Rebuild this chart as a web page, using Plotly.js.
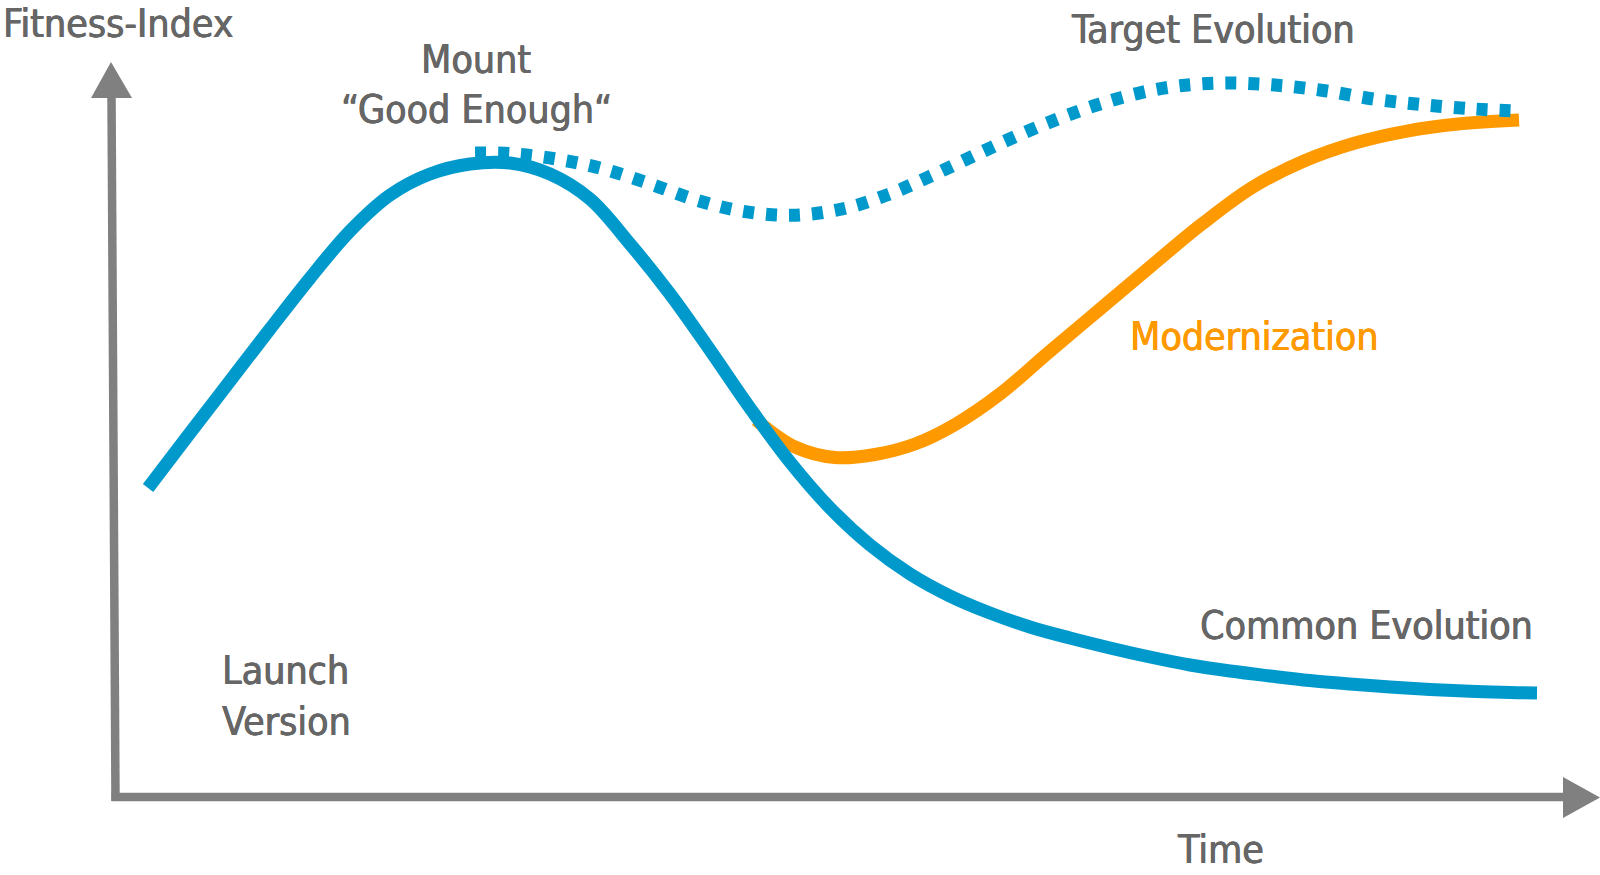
<!DOCTYPE html>
<html>
<head>
<meta charset="utf-8">
<script src="https://cdn.plot.ly/plotly-3.0.1.min.js"></script>
<style>
  html, body { margin: 0; padding: 0; background: #ffffff; }
  #chart { width: 1600px; height: 875px; }
</style>
</head>
<body>
<div id="chart"></div>
<script>
// ---- Data (time units 0..100, fitness units 0..100) ----
const commonTime = [2.28, 5.17, 7.93, 10.69, 13.45, 16.21, 18.97, 21.72, 24.48, 27.24, 30.0, 32.76, 35.52, 38.28, 41.03, 43.79, 46.55, 49.31, 52.07, 54.83, 57.59, 60.34, 63.10, 65.86, 68.62, 71.38, 74.14, 76.90, 79.66, 82.41, 85.17, 87.93, 90.69, 93.45, 96.21, 98.07];
const commonFitness = [44.14, 52.0, 59.43, 66.86, 74.14, 80.86, 86.0, 89.0, 90.43, 90.57, 89.0, 85.43, 79.0, 71.86, 63.86, 55.57, 47.86, 41.29, 36.0, 31.86, 28.71, 26.29, 24.29, 22.71, 21.29, 20.0, 18.86, 18.0, 17.29, 16.64, 16.14, 15.71, 15.36, 15.1, 14.93, 14.86];

const modernTime = [44.21, 46.90, 49.66, 52.41, 55.17, 57.93, 61.03, 64.34, 67.86, 71.38, 74.97, 78.48, 82.0, 85.52, 89.10, 92.62, 96.83];
const modernFitness = [53.86, 50.0, 48.5, 48.93, 50.43, 53.21, 57.57, 63.43, 69.57, 75.71, 81.86, 87.14, 90.86, 93.43, 95.14, 96.14, 96.71];

const targetTime = [24.83, 27.38, 30.55, 33.72, 36.90, 40.07, 43.24, 46.69, 50.14, 53.24, 56.14, 59.31, 62.48, 65.31, 67.93, 70.69, 73.45, 76.62, 80.0, 83.45, 86.83, 90.21, 93.66, 96.55];
const targetFitness = [92.0, 91.9, 91.1, 89.7, 87.6, 85.3, 83.7, 83.1, 84.0, 86.0, 88.6, 91.7, 94.7, 97.1, 99.0, 100.6, 101.6, 102.0, 101.7, 100.9, 99.7, 98.9, 98.3, 98.0];

const labelTexts = {
  yTitle: 'Fitness-Index',
  xTitle: 'Time',
  mount1: 'Mount',
  mount2: '\u201CGood Enough\u201C',
  target: 'Target Evolution',
  modern: 'Modernization',
  common: 'Common Evolution',
  launch1: 'Launch',
  launch2: 'Version'
};

// ---- Styling / layout helpers ----
const BLUE = '#0099CC';
const ORANGE = '#FF9900';
const TEXT = '#666666';
const AXIS = '#808080';
const FONT = '"DejaVu Sans Condensed", "Liberation Sans Narrow", "Arial Narrow", sans-serif';
const FS = 39;

// pixel -> data mapping used for decorations (axes, labels)
const X = px => (px - 115) / 14.5;
const Y = py => (797 - py) / 7;

function label(text, px, baselinePy, anchor, color) {
  const c = color || TEXT;
  return {
    text: text, showarrow: false, xref: 'x', yref: 'y',
    x: X(px), y: Y(baselinePy - 0.3465 * FS),
    xanchor: anchor, yanchor: 'middle',
    font: { family: FONT, size: FS, color: c,
            shadow: `0.6px 0 0 ${c}, -0.3px 0 0 ${c}` }
  };
}

const traces = [
  { x: modernTime, y: modernFitness, mode: 'lines', type: 'scatter',
    line: { color: ORANGE, width: 13, shape: 'spline', smoothing: 1 } },
  { x: commonTime, y: commonFitness, mode: 'lines', type: 'scatter',
    line: { color: BLUE, width: 13, shape: 'spline', smoothing: 1 } },
  { x: targetTime, y: targetFitness, mode: 'lines', type: 'scatter',
    line: { color: BLUE, width: 13, shape: 'spline', smoothing: 1, dash: '11px,12px' } }
];

const shapes = [
  // vertical axis
  { type: 'line', xref: 'x', yref: 'y', x0: X(111.5), y0: Y(96), x1: X(115.5), y1: Y(801),
    line: { color: AXIS, width: 8.5 } },
  // horizontal axis
  { type: 'line', xref: 'x', yref: 'y', x0: X(111.5), y0: Y(797), x1: X(1566), y1: Y(797),
    line: { color: AXIS, width: 8.5 } },
  // arrow heads
  { type: 'path', xref: 'x', yref: 'y',
    path: `M ${X(111)} ${Y(62)} L ${X(132)} ${Y(98)} L ${X(91)} ${Y(98)} Z`,
    fillcolor: AXIS, line: { width: 0 } },
  { type: 'path', xref: 'x', yref: 'y',
    path: `M ${X(1600)} ${Y(797.5)} L ${X(1563)} ${Y(818)} L ${X(1563)} ${Y(777)} Z`,
    fillcolor: AXIS, line: { width: 0 } }
];

const annotations = [
  label(labelTexts.yTitle, 1, 37, 'left'),
  label(labelTexts.mount1, 476, 73, 'center'),
  label(labelTexts.mount2, 476, 123, 'center'),
  label(labelTexts.target, 1213, 43, 'center'),
  label(labelTexts.modern, 1254, 350, 'center', ORANGE),
  label(labelTexts.common, 1366, 639, 'center'),
  label(labelTexts.launch1, 220, 684, 'left'),
  label(labelTexts.launch2, 220, 735, 'left'),
  label(labelTexts.xTitle, 1220, 863, 'center')
];

const layout = {
  width: 1600, height: 875,
  margin: { l: 0, r: 0, t: 0, b: 0, pad: 0 },
  paper_bgcolor: '#ffffff', plot_bgcolor: '#ffffff',
  showlegend: false, hovermode: false,
  xaxis: { range: [X(0), X(1600)], visible: false, fixedrange: true },
  yaxis: { range: [Y(875), Y(0)], visible: false, fixedrange: true },
  shapes: shapes,
  annotations: annotations
};

Plotly.newPlot('chart', traces, layout, { displayModeBar: false, staticPlot: true });
</script>
</body>
</html>
